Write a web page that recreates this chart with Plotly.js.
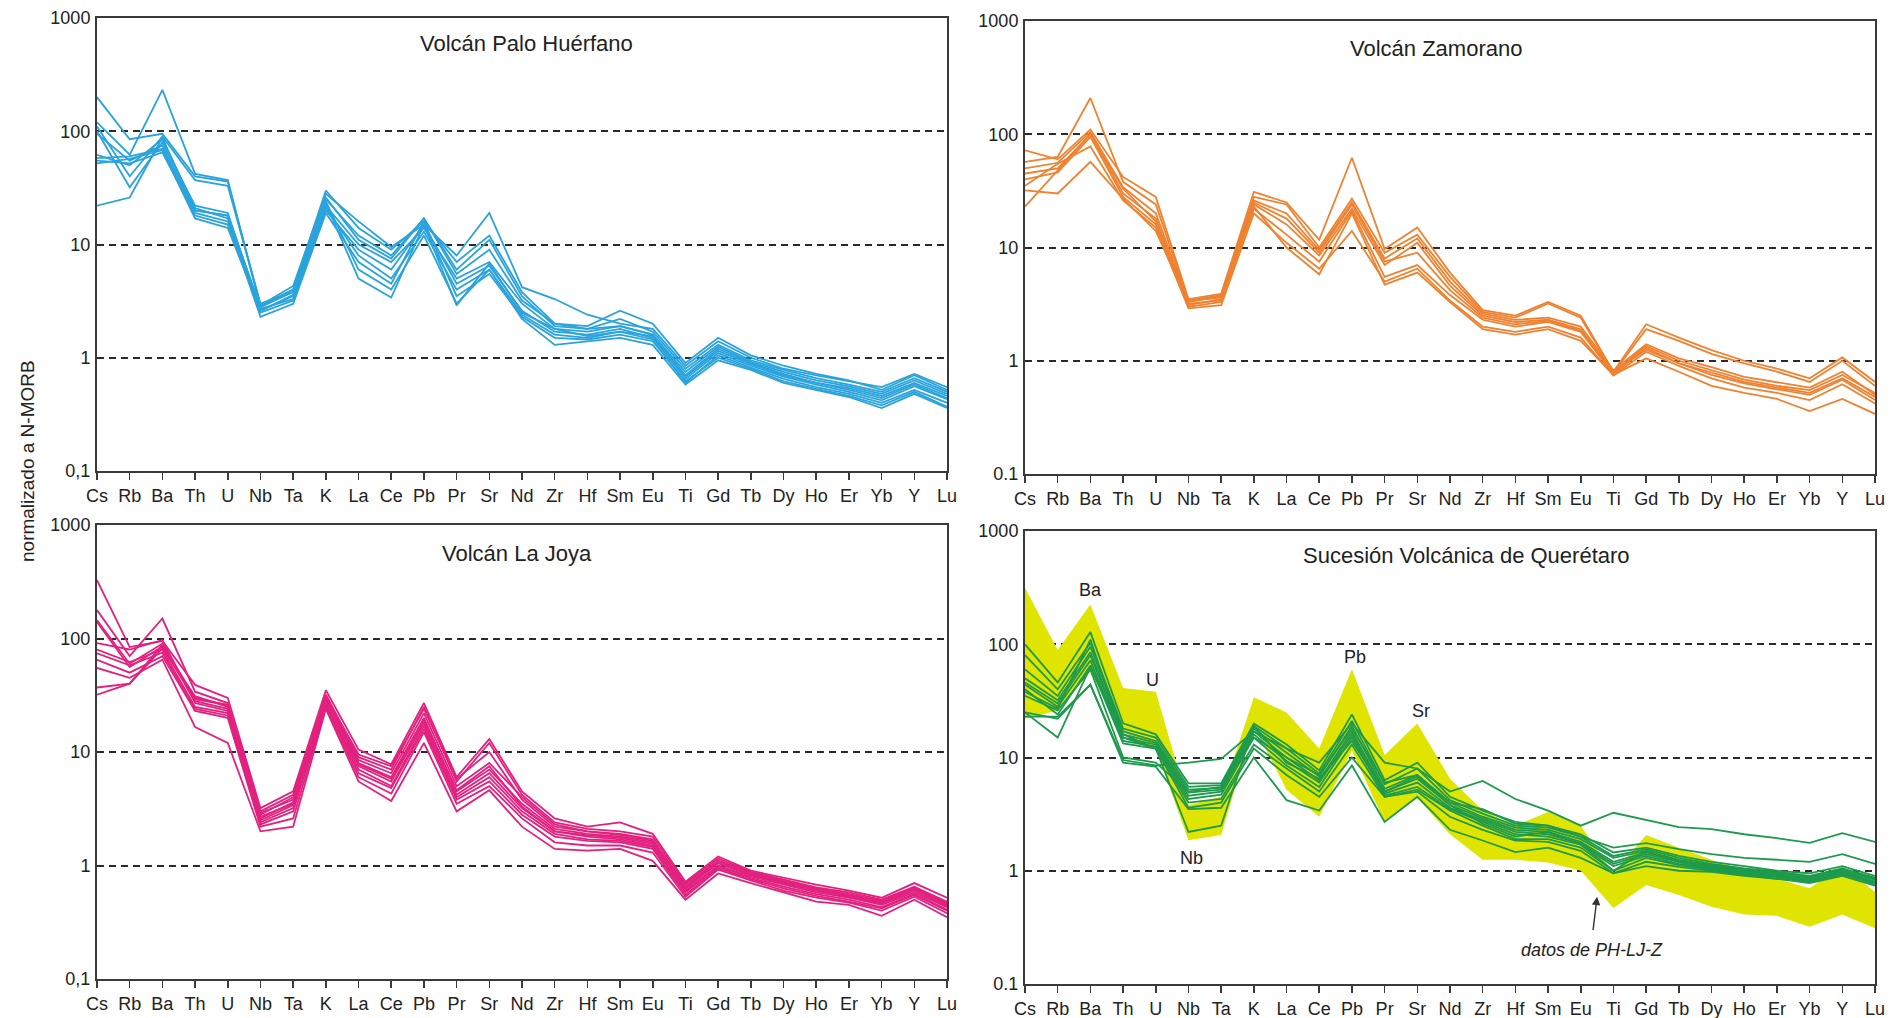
<!DOCTYPE html>
<html>
<head>
<meta charset="utf-8">
<script src="https://cdn.plot.ly/plotly-3.0.1.min.js"></script>
<style>
html, body { margin: 0; padding: 0; background: #ffffff; }
#chart { width: 1903px; height: 1018px; }
</style>
</head>
<body>
<div id="chart"></div>
<script>
// ---------- DATA ----------
const elements = ['Cs','Rb','Ba','Th','U','Nb','Ta','K','La','Ce','Pb','Pr','Sr','Nd','Zr','Hf','Sm','Eu','Ti','Gd','Tb','Dy','Ho','Er','Yb','Y','Lu'];
const yTickVals = [0.1, 1, 10, 100, 1000];
const yTickTextComma = ['0,1', '1', '10', '100', '1000'];
const yTickTextDot = ['0.1', '1', '10', '100', '1000'];
const panelTitles = ['Volcán Palo Huérfano', 'Volcán Zamorano', 'Volcán La Joya', 'Sucesión Volcánica de Querétaro'];
const yAxisTitle = 'normalizado a N-MORB';

// Volcán Palo Huérfano (N-MORB normalised)
const paloHuerfano = [
  [200, 85, 95, 40, 36, 2.9, 4.3, 28, 16, 9.5, 15, 8, 19, 4.2, 3.3, 2.4, 2.0, 1.8, 0.85, 1.4, 1.0, 0.8, 0.7, 0.62, 0.55, 0.72, 0.55],
  [120, 62, 232, 42, 37, 2.8, 4.0, 30, 14, 9, 16, 7, 12, 3.8, 2.0, 1.9, 2.6, 2.0, 0.9, 1.5, 1.05, 0.85, 0.72, 0.63, 0.52, 0.7, 0.52],
  [110, 40, 90, 37, 33, 3.0, 3.8, 25, 12, 8, 17, 6, 11, 3.5, 1.9, 1.8, 2.2, 1.7, 0.8, 1.3, 0.95, 0.78, 0.66, 0.58, 0.5, 0.66, 0.5],
  [100, 32, 80, 22, 19, 2.6, 3.5, 22, 10, 7, 14, 5, 7, 3.0, 1.8, 1.7, 1.9, 1.6, 0.7, 1.2, 0.9, 0.72, 0.6, 0.54, 0.46, 0.6, 0.46],
  [95, 55, 75, 20, 18, 2.7, 3.3, 20, 9, 6, 15, 4.5, 6.5, 2.6, 1.7, 1.6, 1.8, 1.5, 0.65, 1.1, 0.85, 0.68, 0.58, 0.5, 0.42, 0.56, 0.43],
  [62, 50, 85, 21, 17, 2.5, 3.2, 21, 8, 5, 13, 4, 6, 2.4, 1.6, 1.5, 1.7, 1.45, 0.6, 1.05, 0.82, 0.65, 0.55, 0.48, 0.4, 0.52, 0.4],
  [58, 60, 70, 19, 16, 2.3, 3.0, 19, 7, 4.5, 16, 3.5, 5.5, 2.3, 1.5, 1.45, 1.6, 1.4, 0.62, 1.0, 0.8, 0.62, 0.53, 0.46, 0.38, 0.5, 0.37],
  [55, 52, 65, 18, 15, 2.9, 4.0, 24, 6, 4, 12, 3, 6, 2.2, 1.3, 1.4, 1.5, 1.3, 0.58, 0.95, 0.78, 0.6, 0.52, 0.45, 0.36, 0.48, 0.36],
  [52, 57, 68, 17, 14, 2.6, 3.6, 23, 5, 3.4, 15, 2.9, 6.8, 2.5, 1.8, 1.55, 1.7, 1.55, 0.68, 1.15, 0.88, 0.7, 0.6, 0.52, 0.44, 0.58, 0.44],
  [22, 26, 88, 20, 18, 2.8, 3.8, 26, 11, 7.5, 17, 5.5, 9, 3.2, 2.0, 1.8, 1.9, 1.6, 0.75, 1.25, 0.92, 0.75, 0.63, 0.56, 0.48, 0.63, 0.48]
];

// Volcán Zamorano
const zamorano = [
  [72, 60, 110, 42, 28, 3.5, 3.9, 31, 25, 11.7, 62, 9.7, 15, 6.0, 2.8, 2.5, 3.3, 2.5, 0.8, 2.1, 1.6, 1.24, 1.0, 0.85, 0.7, 1.07, 0.65],
  [57, 63, 209, 38, 24, 3.4, 3.8, 28, 24, 10, 27, 9, 13, 5.5, 2.7, 2.4, 3.2, 2.4, 0.78, 1.9, 1.5, 1.15, 0.95, 0.8, 0.65, 1.0, 0.6],
  [50, 56, 105, 34, 20, 3.3, 3.7, 26, 20, 9.5, 25, 8, 12, 5.0, 2.6, 2.3, 2.4, 2.0, 0.82, 1.4, 1.05, 0.88, 0.72, 0.65, 0.58, 0.8, 0.5],
  [45, 50, 100, 30, 18, 3.1, 3.5, 24, 16, 8.5, 22, 7, 11, 4.6, 2.5, 2.2, 2.3, 1.9, 0.78, 1.35, 1.0, 0.82, 0.68, 0.6, 0.55, 0.75, 0.52],
  [40, 46, 95, 28, 16, 3.0, 3.3, 22, 13, 7.5, 21, 5.5, 7, 3.8, 2.3, 2.0, 2.2, 1.8, 0.76, 1.3, 0.95, 0.78, 0.65, 0.58, 0.52, 0.7, 0.48],
  [35, 55, 78, 26, 15, 2.9, 3.1, 20, 11, 6.5, 14, 5, 6.5, 3.4, 2.0, 1.8, 2.0, 1.6, 0.74, 1.2, 0.9, 0.7, 0.58, 0.52, 0.45, 0.62, 0.42],
  [32, 30, 57, 27, 14, 3.2, 3.4, 23, 10, 5.8, 20, 4.7, 6.0, 3.3, 1.9, 1.7, 1.9, 1.5, 0.75, 1.05, 0.8, 0.6, 0.52, 0.46, 0.36, 0.46, 0.34],
  [23, 48, 100, 33, 17, 3.4, 3.6, 25, 18, 9, 24, 7.5, 9, 4.2, 2.4, 2.1, 2.25, 1.85, 0.8, 1.25, 0.95, 0.75, 0.63, 0.56, 0.5, 0.68, 0.45]
];

// Volcán La Joya
const laJoya = [
  [327, 84, 95, 39, 30, 3.2, 4.5, 35, 10.5, 7.8, 27, 6, 13, 4.5, 2.6, 2.2, 2.4, 1.9, 0.72, 1.2, 0.9, 0.78, 0.68, 0.6, 0.52, 0.7, 0.52],
  [178, 70, 150, 34, 27, 3.0, 4.2, 32, 9, 7, 25, 5.5, 12, 4.2, 2.4, 2.1, 2.0, 1.8, 0.7, 1.15, 0.88, 0.75, 0.64, 0.58, 0.5, 0.65, 0.48],
  [145, 60, 90, 30, 26, 2.8, 4.0, 30, 8.5, 6.5, 22, 5, 8, 4.0, 2.3, 2.0, 1.9, 1.7, 0.65, 1.1, 0.85, 0.72, 0.62, 0.55, 0.48, 0.62, 0.46],
  [140, 56, 85, 28, 24, 2.6, 3.6, 29, 8, 6, 20, 4.5, 7, 3.5, 2.1, 1.9, 1.8, 1.6, 0.62, 1.05, 0.82, 0.7, 0.6, 0.53, 0.46, 0.6, 0.44],
  [91, 80, 97, 27, 23, 2.7, 3.5, 28, 7.5, 5.5, 18, 4.2, 6.5, 3.2, 2.0, 1.8, 1.7, 1.5, 0.6, 1.0, 0.8, 0.68, 0.58, 0.52, 0.45, 0.58, 0.43],
  [80, 62, 80, 25, 22, 2.4, 3.2, 27, 7, 5, 17, 4, 6, 3.0, 1.9, 1.7, 1.65, 1.45, 0.58, 0.98, 0.78, 0.65, 0.56, 0.5, 0.43, 0.56, 0.41],
  [74, 58, 75, 24, 21, 2.3, 3.0, 26, 6.5, 4.8, 16, 3.8, 5.5, 2.8, 1.8, 1.65, 1.6, 1.4, 0.55, 0.95, 0.76, 0.63, 0.54, 0.48, 0.42, 0.55, 0.4],
  [65, 50, 70, 23, 20, 2.2, 2.6, 25, 6, 4.3, 15, 3.5, 5, 2.6, 1.6, 1.5, 1.5, 1.3, 0.53, 0.92, 0.74, 0.6, 0.52, 0.47, 0.4, 0.53, 0.38],
  [55, 45, 65, 16.6, 12, 2.0, 2.2, 24, 5.5, 3.7, 12, 3.0, 4.6, 2.2, 1.4, 1.35, 1.4, 1.1, 0.5, 0.85, 0.7, 0.58, 0.48, 0.45, 0.36, 0.5, 0.35],
  [37, 40, 88, 29, 26, 2.9, 3.8, 31, 9.5, 7.5, 24, 5.8, 10, 3.8, 2.2, 2.0, 1.85, 1.65, 0.68, 1.1, 0.86, 0.73, 0.63, 0.56, 0.49, 0.64, 0.47],
  [32, 40, 82, 31, 25, 2.5, 3.4, 29, 7.8, 5.8, 19, 4.6, 7.5, 3.3, 2.0, 1.85, 1.75, 1.55, 0.64, 1.05, 0.83, 0.7, 0.6, 0.54, 0.47, 0.62, 0.45]
];

// Sucesión Volcánica de Querétaro
const queretaro = [
  [25, 22, 44, 9.5, 8.5, 9, 9.7, 17, 12, 9, 20, 9, 8, 5.0, 6.2, 4.3, 3.4, 2.5, 3.25, 2.8, 2.43, 2.33, 2.1, 1.94, 1.76, 2.15, 1.8],
  [35, 26, 60, 10, 9, 5, 5.5, 15, 10, 7, 18, 6, 7, 4.0, 3.5, 2.6, 2.5, 2.0, 1.6, 1.75, 1.55, 1.4, 1.3, 1.25, 1.2, 1.4, 1.15],
  [100, 46, 128, 20, 16, 5.9, 5.9, 20, 13, 7.7, 24, 6.3, 9, 4.5, 3.4, 2.7, 2.5, 2.1, 1.45, 1.6, 1.35, 1.2, 1.1, 1.0, 0.95, 1.1, 0.9],
  [80, 40, 103, 18, 15, 5.5, 5.7, 19, 12, 7.2, 21, 5.8, 8, 4.2, 3.2, 2.5, 2.4, 2.0, 1.35, 1.55, 1.3, 1.15, 1.05, 0.98, 0.9, 1.05, 0.87],
  [60, 35, 95, 17, 14, 5.2, 5.4, 18, 11, 6.8, 19, 5.3, 7, 4.0, 3.0, 2.4, 2.3, 1.9, 1.3, 1.5, 1.25, 1.12, 1.03, 0.96, 0.88, 1.03, 0.85],
  [50, 32, 85, 16, 13.5, 4.9, 5.2, 17, 10, 6.3, 17, 5.0, 6.5, 3.8, 2.9, 2.3, 2.2, 1.8, 1.2, 1.45, 1.22, 1.1, 1.0, 0.94, 0.86, 1.0, 0.83],
  [46, 30, 80, 15, 13, 4.6, 5.0, 16, 9.3, 6.0, 16, 4.8, 6, 3.6, 2.8, 2.2, 2.1, 1.75, 1.15, 1.4, 1.2, 1.08, 0.98, 0.92, 0.84, 0.98, 0.8],
  [44, 28, 72, 14, 12.5, 4.3, 4.7, 15, 8.5, 5.5, 15, 4.6, 5.5, 3.5, 2.7, 2.1, 2.0, 1.7, 1.1, 1.35, 1.15, 1.05, 0.96, 0.9, 0.82, 0.96, 0.78],
  [40, 24, 65, 13.3, 12, 4.0, 4.3, 13, 8, 5, 13, 4.5, 5.2, 3.4, 2.5, 1.9, 1.9, 1.6, 1.0, 1.3, 1.12, 1.02, 0.94, 0.88, 0.8, 0.94, 0.76],
  [25, 15, 63, 16, 12, 3.6, 4.0, 12, 7, 4.5, 10, 4.5, 5.0, 3.0, 2.3, 1.85, 1.8, 1.5, 0.95, 1.2, 1.08, 1.0, 0.92, 0.85, 0.78, 0.9, 0.74],
  [23, 23, 44, 9, 8.3, 3.5, 3.6, 10, 4.2, 3.4, 8.5, 2.7, 4.5, 2.3, 1.85, 1.46, 1.6, 1.3, 0.95, 1.1, 1.0, 0.98, 0.9, 0.85, 0.8, 0.92, 0.8],
  [38, 27, 110, 15, 12, 2.2, 2.5, 19, 9, 6.5, 14, 5, 6.8, 3.8, 2.6, 2.0, 2.2, 1.7, 1.0, 1.5, 1.2, 1.05, 0.97, 0.9, 0.83, 1.0, 0.85]
];

// Field of PH-LJ-Z data (upper and lower envelope)
const fieldUpper = [315, 89, 224, 41, 38, 3.8, 4.5, 34, 25, 12, 60, 10.5, 20, 6.5, 3.4, 2.5, 3.3, 2.5, 0.95, 2.07, 1.6, 1.25, 1.0, 0.85, 0.7, 1.1, 0.65];
const fieldLower = [22, 26, 57, 17, 12, 1.86, 2.07, 19, 5.2, 3.0, 11.5, 2.7, 4.4, 2.1, 1.25, 1.25, 1.18, 1.0, 0.47, 0.75, 0.61, 0.48, 0.41, 0.40, 0.32, 0.41, 0.31];

// Queretaro annotations: [label, x index, y value]
const qLabels = [['Ba', 2.0, 301], ['U', 3.9, 48], ['Pb', 10.1, 77], ['Sr', 12.1, 25.7], ['Nb', 5.1, 1.3]];
const fieldNote = 'datos de PH-LJ-Z';

// ---------- STYLE ----------
const colBlue = '#2aa3dd';
const colOrange = '#ee8230';
const colPink = '#e2217f';
const colGreen = '#1e9a4c';
const colYellow = '#dfe400';
const frameCol = '#3a3a3a';
const fontFam = '"Liberation Sans", Arial, Helvetica, sans-serif';

const traces = [];
function addLines(rows, color, xa, ya) {
  rows.forEach(r => {
    traces.push({
      type: 'scatter', mode: 'lines', x: elements, y: r,
      xaxis: xa, yaxis: ya, line: { color: color, width: 1.8 },
      hoverinfo: 'skip', showlegend: false
    });
  });
}
addLines(paloHuerfano, colBlue, 'x', 'y');
addLines(zamorano, colOrange, 'x2', 'y2');
addLines(laJoya, colPink, 'x3', 'y3');
traces.push({
  type: 'scatter', mode: 'lines',
  x: elements.concat(elements.slice().reverse()),
  y: fieldUpper.concat(fieldLower.slice().reverse()),
  xaxis: 'x4', yaxis: 'y4', fill: 'toself', fillcolor: colYellow,
  line: { width: 0, color: colYellow }, hoverinfo: 'skip', showlegend: false
});
addLines(queretaro, colGreen, 'x4', 'y4');

function xAxis(domain, anchor) {
  return {
    domain: domain, anchor: anchor, type: 'category',
    categoryorder: 'array', categoryarray: elements,
    range: [0, 26], showline: true, linecolor: frameCol, linewidth: 2, mirror: true,
    ticks: 'outside', ticklen: 7, tickwidth: 1.5, tickcolor: frameCol,
    tickfont: { family: fontFam, size: 18, color: '#222' },
    showgrid: false, zeroline: false, fixedrange: true, ticklabelstandoff: 0
  };
}
function yAxis(domain, anchor, ttext) {
  return {
    domain: domain, anchor: anchor, type: 'log', range: [-1, 3],
    tickvals: yTickVals, ticktext: ttext,
    showline: true, linecolor: frameCol, linewidth: 2, mirror: true,
    ticks: '', tickfont: { family: fontFam, size: 18, color: '#222' },
    showgrid: true, gridcolor: '#2a2a2a', gridwidth: 2, griddash: '7px,5px',
    zeroline: false, fixedrange: true, ticklabelstandoff: 1
  };
}

const W = 1903, H = 1018;
const L1 = [97 / W, 947 / W], L2 = [1025 / W, 1875 / W];
const T1 = [1 - 471 / H, 1 - 18 / H], T2 = [1 - 474 / H, 1 - 21 / H];
const B1 = [1 - 979 / H, 1 - 525 / H], B2 = [1 - 984 / H, 1 - 531 / H];

const titleFont = { family: fontFam, size: 22, color: '#222' };
const annFont = { family: fontFam, size: 18, color: '#222' };
const annotations = [
  { xref: 'x domain', yref: 'y domain', x: 0.505, y: 0.943, text: panelTitles[0], showarrow: false, font: titleFont, xanchor: 'center', yanchor: 'middle' },
  { xref: 'x2 domain', yref: 'y2 domain', x: 0.483, y: 0.94, text: panelTitles[1], showarrow: false, font: titleFont, xanchor: 'center', yanchor: 'middle' },
  { xref: 'x3 domain', yref: 'y3 domain', x: 0.494, y: 0.938, text: panelTitles[2], showarrow: false, font: titleFont, xanchor: 'center', yanchor: 'middle' },
  { xref: 'x4 domain', yref: 'y4 domain', x: 0.519, y: 0.945, text: panelTitles[3], showarrow: false, font: titleFont, xanchor: 'center', yanchor: 'middle' },
  { xref: 'paper', yref: 'paper', x: 27 / W, y: 1 - 461 / H, text: yAxisTitle, textangle: -90, showarrow: false, font: { family: fontFam, size: 19, color: '#222' }, xanchor: 'center', yanchor: 'middle' }
];
qLabels.forEach(q => {
  annotations.push({ xref: 'x4', yref: 'y4', x: q[1], y: Math.log10(q[2]), text: q[0], showarrow: false, font: annFont, xanchor: 'center', yanchor: 'middle' });
});
annotations.push({
  xref: 'x4', yref: 'y4', x: 17.5, y: Math.log10(0.59), axref: 'x4', ayref: 'y4', ax: 17.37, ay: Math.log10(0.29),
  text: '', showarrow: true, arrowhead: 2, arrowsize: 1.2, arrowwidth: 1.4, arrowcolor: '#333'
});
annotations.push({
  xref: 'x4', yref: 'y4', x: 17.34, y: Math.log10(0.2), text: '<i>' + fieldNote + '</i>', showarrow: false,
  font: { family: fontFam, size: 18, color: '#222' }, xanchor: 'center', yanchor: 'middle'
});

const layout = {
  width: W, height: H, margin: { l: 0, r: 0, t: 0, b: 0 },
  paper_bgcolor: '#ffffff', plot_bgcolor: '#ffffff', showlegend: false,
  xaxis: xAxis(L1, 'y'), yaxis: yAxis(T1, 'x', yTickTextComma),
  xaxis2: xAxis(L2, 'y2'), yaxis2: yAxis(T2, 'x2', yTickTextDot),
  xaxis3: xAxis(L1, 'y3'), yaxis3: yAxis(B1, 'x3', yTickTextComma),
  xaxis4: xAxis(L2, 'y4'), yaxis4: yAxis(B2, 'x4', yTickTextDot),
  annotations: annotations
};

Plotly.newPlot('chart', traces, layout, { staticPlot: true, displayModeBar: false });
</script>
</body>
</html>
